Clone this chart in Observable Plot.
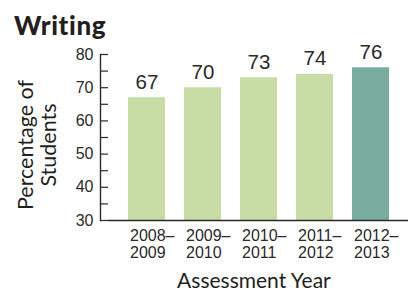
<!DOCTYPE html>
<html>
<head>
<meta charset="utf-8">
<script src="https://cdn.jsdelivr.net/npm/d3@7"></script>
<script src="https://cdn.jsdelivr.net/npm/@observablehq/plot@0.6"></script>
<style>
  html, body { margin: 0; padding: 0; background: #fff; }
  #wrap { position: relative; width: 408px; height: 293px; overflow: hidden; }
  #title { position: absolute; left: 14px; top: 12px; font-family: Lato, sans-serif; font-weight: 900; font-size: 26px; letter-spacing: 0.6px; color: #231f20; line-height: 1; }
  #chart { position: absolute; left: 0; top: 0; }
</style>
</head>
<body>
<div id="wrap">
  <div id="chart"></div>
  <div id="title">Writing</div>
</div>
<script>
const years = ["2008–2009", "2009–2010", "2010–2011", "2011–2012", "2012–2013"];
const values = [67, 70, 73, 74, 76];
const highlightYear = "2012–2013";
const yTicks = [30, 35, 40, 45, 50, 55, 60, 65, 70, 75, 80];
const yLabel = "Percentage of\nStudents";
const xLabel = "Assessment Year";

const data = years.map((year, i) => ({year, value: values[i]}));
const green = "#c8dca5";
const teal = "#7aab9f";
const ink = "#2a2a2a";

const chart = Plot.plot({
  width: 408,
  height: 293,
  marginTop: 54,
  marginBottom: 73,
  marginLeft: 108,
  marginRight: 0,
  style: {fontFamily: "'Liberation Sans', Arial, sans-serif", fontSize: "16px", color: ink, background: "transparent"},
  x: {domain: years, range: [126, 392], paddingInner: 1/3, paddingOuter: 0, axis: null},
  y: {domain: [30, 80], axis: null},
  marks: [
    Plot.barY(data, {x: "year", y1: 30, y2: "value", fill: d => d.year === highlightYear ? teal : green}),
    Plot.text(data, {x: "year", y: "value", text: d => String(d.value), lineAnchor: "bottom", dy: -9, fontSize: 20.5, fill: ink}),
    Plot.axisY({ticks: yTicks, label: null, tickSize: 8, tickPadding: 7, tickFormat: d => d % 10 === 0 ? String(d) : "", fontSize: 16, stroke: ink, strokeWidth: 1.2}),
    Plot.frame({anchor: "left", dx: -8, stroke: ink, strokeWidth: 1.4}),
    Plot.frame({anchor: "bottom", stroke: ink, strokeWidth: 1.4}),
    Plot.axisX({label: null, tickSize: 0, tickPadding: 8.5, tickFormat: d => d.replace("–", "–\n"), textAnchor: "start", dx: -17, lineHeight: 1.05, fontSize: 16}),
    Plot.text([yLabel], {frameAnchor: "left", textAnchor: "middle", lineAnchor: "middle", rotate: -90, dx: -71.5, dy: 7.5, lineHeight: 1.07, fontSize: 21.5, fontFamily: "Lato, sans-serif", fill: "#231f20"}),
    Plot.text([xLabel], {frameAnchor: "bottom", textAnchor: "middle", lineAnchor: "middle", dx: -4.6, dy: 61, fontSize: 21, fontFamily: "Lato, sans-serif", fill: "#231f20"})
  ]
});
document.getElementById("chart").appendChild(chart);
</script>
</body>
</html>
